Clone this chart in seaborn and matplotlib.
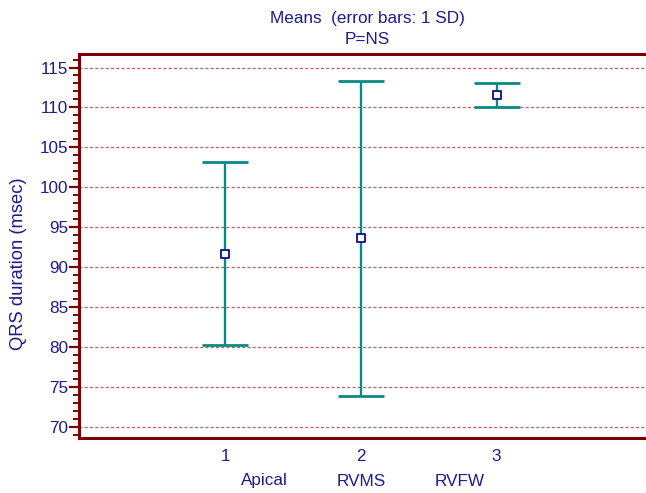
import matplotlib
matplotlib.use("Agg")
import matplotlib.pyplot as plt
import matplotlib.transforms as mtransforms
from matplotlib.ticker import MultipleLocator
import seaborn as sns
import pandas as pd

# ---- data ----
positions = [1, 2, 3]
groups = ["Apical", "RVMS", "RVFW"]
means = [91.7, 93.6, 111.55]
sds = [11.5, 19.7, 1.5]
title_lines = ["Means  (error bars: 1 SD)", "P=NS"]
ylabel = "QRS duration (msec)"

# layout constants (label x positions in data units)
group_label_x = [1.29, 2.0, 2.73]

sns.set_style("white")
plt.rcParams["font.family"] = ["Liberation Sans", "DejaVu Sans"]

navy = "#1c1c8a"
maroon = "#7a0000"
teal = "#0a8a84"
gridc = "#b86060"
fs = 12.3

fig = plt.figure(figsize=(6.46, 4.93), dpi=100)
W, H = 646, 493
ax = fig.add_axes([79 / W, 1 - 438 / H, 1 - 79 / W + 0.01, (438 - 54) / H])

df = pd.DataFrame({"pos": positions, "mean": means, "sd": sds, "group": groups})

ax.errorbar(df["pos"], df["mean"], yerr=df["sd"], fmt="none", ecolor=teal,
            elinewidth=1.7, capsize=16.5, capthick=2.0, zorder=3)
sns.scatterplot(data=df, x="pos", y="mean", marker="s", s=30, color="white",
                edgecolor=navy, linewidth=1.4, ax=ax, zorder=4)

ax.set_xlim(-0.08, 4.15)
ax.set_ylim(68.62, 116.69)

ax.yaxis.set_major_locator(MultipleLocator(5))
ax.yaxis.set_minor_locator(MultipleLocator(1))
ax.set_xticks(positions)
ax.set_xticklabels([str(p) for p in positions])

ax.grid(axis="y", which="major", color=gridc, linestyle=(0, (2.4, 1.8)), linewidth=0.9)
ax.grid(axis="x", visible=False)

for s in ["top", "bottom", "left"]:
    ax.spines[s].set_color(maroon)
    ax.spines[s].set_linewidth(2.2)
    ax.spines[s].set_visible(True)
ax.spines["right"].set_visible(False)

ax.tick_params(axis="y", which="major", direction="out", length=7, width=1.6,
               color=maroon, labelcolor=navy, labelsize=fs, pad=1, left=True)
ax.tick_params(axis="y", which="minor", direction="out", length=4.5, width=1.4,
               color=maroon, left=True)
ax.tick_params(axis="x", which="both", length=0, labelcolor=navy, labelsize=fs, pad=8)

ax.set_xlabel("")
ax.set_ylabel(ylabel, color=navy, fontsize=13.2)
ax.yaxis.set_label_coords(-0.09, 0.455)

trans = mtransforms.blended_transform_factory(ax.transData, fig.transFigure)
for gx, g in zip(group_label_x, groups):
    ax.text(gx, 1 - 481 / H, g, transform=trans, ha="center", va="center",
            color=navy, fontsize=fs)

fig.text(367 / W, 1 - 18 / H, title_lines[0], ha="center", va="center",
         color=navy, fontsize=fs)
fig.text(367 / W, 1 - 40 / H, title_lines[1], ha="center", va="center",
         color=navy, fontsize=fs)

fig.savefig("out.png", dpi=100, facecolor="white")
